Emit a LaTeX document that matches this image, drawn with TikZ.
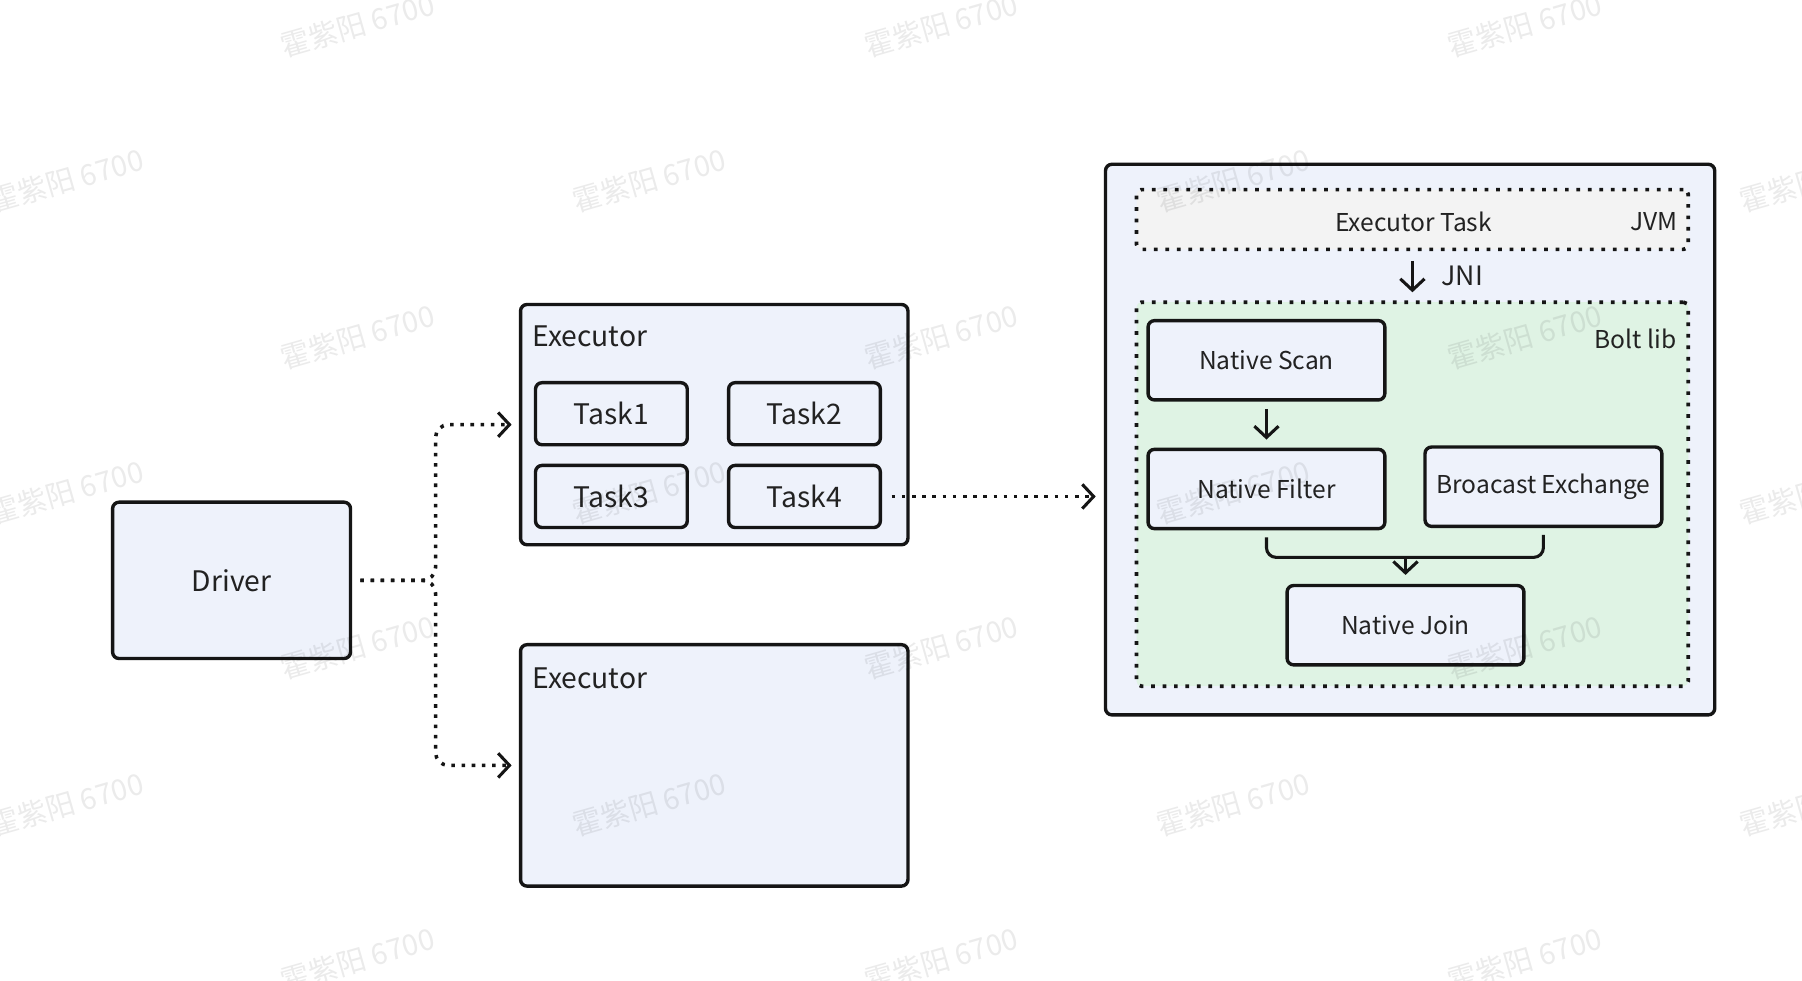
\documentclass[tikz,border=0pt]{standalone}
\usepackage{fontspec}
\setmainfont{Noto Sans CJK SC}
\usetikzlibrary{arrows.meta,calc}
\definecolor{boxfill}{HTML}{EEF2FB}
\definecolor{greenfill}{HTML}{DFF3E4}
\definecolor{grayfill}{HTML}{F3F3F3}
\definecolor{ink}{HTML}{151515}
\definecolor{txt}{HTML}{222222}
\begin{document}
\begin{tikzpicture}[x=0.025cm,y=-0.025cm,
  box/.style={draw=ink, line width=2.1pt, fill=boxfill, rounded corners=4pt, inner sep=0pt, text=txt},
  bigfont/.style={font=\fontsize{17.5}{21}\selectfont},
  smallfont/.style={font=\fontsize{15.2}{18}\selectfont},
  lbl/.style={text=txt, inner sep=0pt},
  dotbox/.style={draw=ink, line width=2.3pt, dash pattern=on 2.3pt off 4.8pt, rounded corners=3pt, inner sep=0pt, text=txt},
  conn/.style={draw=ink, line width=1.9pt, -{Straight Barb[length=7pt,width=15pt,line width=1.9pt]}},
  dotconn/.style={conn, line width=2.2pt, dash pattern=on 2.2pt off 4.1pt},
  wm/.style={text=black, opacity=0.08, rotate=16, font=\fontsize{18}{20}\selectfont}
]
\useasboundingbox (0,0) rectangle (1568,853);
\fill[white] (0,0) rectangle (1568,853);

% left part
\node[box, minimum width=5.175cm, minimum height=3.4cm, bigfont] (driver) at (201.5,505) {Driver};
\node[box, minimum width=8.425cm, minimum height=5.225cm] (exec1) at (621.5,369.5) {};
\node[lbl, bigfont, anchor=west] (exec1lbl) at (463,293) {Executor};
\node[box, minimum width=3.3cm, minimum height=1.35cm, bigfont] (t1) at (532,360) {Task1};
\node[box, minimum width=3.3cm, minimum height=1.35cm, bigfont] (t2) at (700,360) {Task2};
\node[box, minimum width=3.3cm, minimum height=1.35cm, bigfont] (t3) at (532,432) {Task3};
\node[box, minimum width=3.3cm, minimum height=1.35cm, bigfont] (t4) at (700,432) {Task4};
\node[box, minimum width=8.425cm, minimum height=5.25cm] (exec2) at (621.5,666) {};
\node[lbl, bigfont, anchor=west] (exec2lbl) at (463,590) {Executor};

% right part
\node[box, minimum width=13.25cm, minimum height=11.975cm] (big) at (1227,382.5) {};
\node[dotbox, fill=grayfill, minimum width=12cm, minimum height=1.3cm] (jvm) at (1229,191) {};
\node[lbl, smallfont] (jvmtxt) at (1230,193) {Executor Task};
\node[lbl, smallfont, anchor=east] (jvmlbl) at (1460,193) {JVM};
\node[dotbox, fill=greenfill, minimum width=12cm, minimum height=8.35cm] (bolt) at (1229,430) {};
\node[lbl, smallfont, anchor=east] (boltlbl) at (1459,295) {Bolt lib};
\node[box, minimum width=5.15cm, minimum height=1.725cm, smallfont] (scan) at (1102,313.5) {Native Scan};
\node[box, minimum width=5.15cm, minimum height=1.725cm, smallfont] (filter) at (1102,425.5) {Native Filter};
\node[box, minimum width=5.15cm, minimum height=1.725cm, smallfont] (bex) at (1343,423.5) {Broacast Exchange};
\node[box, minimum width=5.15cm, minimum height=1.725cm, smallfont] (join) at (1223,544) {Native Join};

% connectors
\coordinate (split) at (379,505);
\draw[dotconn, rounded corners=8pt, shorten <=5pt, shorten >=4.5pt] (driver.east) -- (split) |- (exec1.west);
\draw[dotconn, rounded corners=8pt, shorten <=5pt, shorten >=4.5pt] (driver.east) -- (split) |- (exec2.west);
\draw[dotconn, shorten <=6pt, shorten >=5pt] (t4.east) -- (big.west |- t4.east);
\draw[conn, shorten <=6pt, shorten >=5pt] (jvm.south) -- (bolt.north);
\node[lbl, font=\fontsize{16.5}{20}\selectfont, anchor=west] (jni) at (1254,240) {JNI};
\draw[conn, shorten <=4.5pt, shorten >=5pt] (scan.south) -- (filter.north);
\coordinate (brk) at (1223,485);
\draw[draw=ink, line width=1.9pt, rounded corners=6pt] ($(filter.south)+(0,6)$) |- (brk) -| ($(bex.south)+(0,6)$);
\draw[conn, shorten >=5.5pt] (brk) -- (join.north);

% watermarks
\foreach \x in {311,819,1327} \foreach \y in {22,293,563,835}
  \node[wm] (wma-\x-\y) at (\x,\y) {霍紫阳 6700};
\foreach \x in {58,565,1073,1581} \foreach \y in {157,428,700}
  \node[wm] (wmb-\x-\y) at (\x,\y) {霍紫阳 6700};
\end{tikzpicture}
\end{document}
